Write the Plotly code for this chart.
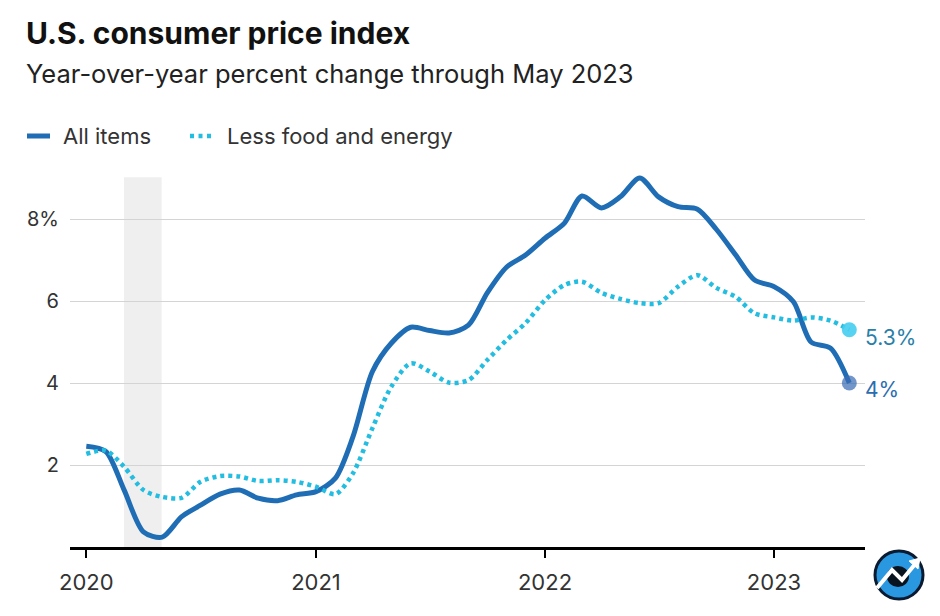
import plotly.graph_objects as go

months = [f"{y}-{m:02d}-01" for y in range(2020, 2024) for m in range(1, 13)][:41]

all_items = [2.46, 2.33, 1.4, 0.37, 0.24, 0.74, 1.02, 1.29, 1.39, 1.19, 1.13, 1.27,
             1.35, 1.68, 2.69, 4.28, 4.97, 5.36, 5.28, 5.22, 5.41, 6.2, 6.83, 7.12,
             7.53, 7.9, 8.56, 8.27, 8.54, 9.0, 8.54, 8.3, 8.24, 7.75, 7.12, 6.51,
             6.35, 5.98, 5.0, 4.85, 4.0]
core = [2.27, 2.35, 1.96, 1.39, 1.22, 1.2, 1.59, 1.73, 1.72, 1.61, 1.63, 1.59,
        1.47, 1.29, 1.8, 2.9, 3.91, 4.48, 4.28, 4.01, 4.07, 4.56, 5.05, 5.46,
        6.02, 6.39, 6.47, 6.2, 6.05, 5.95, 5.95, 6.35, 6.63, 6.32, 6.1, 5.7,
        5.6, 5.52, 5.6, 5.52, 5.3]

year_ticks = ["2020-01-01", "2021-01-01", "2022-01-01", "2023-01-01"]
year_labels = ["2020", "2021", "2022", "2023"]
y_ticks = [2, 4, 6, 8]
y_labels = ["2", "4", "6", "8%"]
recession = ("2020-03-01", "2020-04-30")

BLUE = "#1f6db4"
CYAN = "#22bde0"
FONT = "Inter"

OFF = 8  # page body margin
# plot area in (reference) pixels
L, R, T, B = 70, 865, 160, 547
W, H = 940 - OFF, 616 - OFF


def px(x):
    return (x - L) / (R - L)


def py(y):
    return (B - y) / (B - T)


fig = go.Figure()
fig.add_trace(go.Scatter(x=months, y=all_items, mode="lines", name="All items",
                         line=dict(color=BLUE, width=5, shape="spline", smoothing=0.8),
                         hoverinfo="x+y"))
fig.add_trace(go.Scatter(x=months, y=core, mode="lines", name="Less food and energy",
                         line=dict(color=CYAN, width=4.5, shape="spline", smoothing=0.8,
                                   dash="4px,4px"),
                         hoverinfo="x+y"))
fig.add_trace(go.Scatter(x=[months[-1]], y=[core[-1]], mode="markers",
                         marker=dict(size=15, color="rgba(70,205,240,0.9)"),
                         hoverinfo="skip"))
fig.add_trace(go.Scatter(x=[months[-1]], y=[all_items[-1]], mode="markers",
                         marker=dict(size=15, color="rgba(60,110,180,0.72)"),
                         hoverinfo="skip"))

fig.add_shape(type="rect", xref="x", yref="y", x0=recession[0], x1=recession[1],
              y0=0, y1=9.02, fillcolor="#efefef", line=dict(width=0), layer="below")

# end labels
fig.add_annotation(x=months[-1], y=core[-1], text=f"{core[-1]}%", showarrow=False,
                   xanchor="left", yanchor="middle", xshift=14, yshift=-8,
                   font=dict(family=FONT, size=21, color="#2a7fa8"))
fig.add_annotation(x=months[-1], y=all_items[-1], text=f"{all_items[-1]:g}%", showarrow=False,
                   xanchor="left", yanchor="middle", xshift=14, yshift=-6,
                   font=dict(family=FONT, size=21, color="#2a6db0"))

# title & subtitle
fig.add_annotation(xref="paper", yref="paper", x=px(24), y=py(33),
                   text="<b>U.S. consumer price index</b>", showarrow=False,
                   xanchor="left", yanchor="middle",
                   font=dict(family=FONT, size=30, color="#111111"))
fig.add_annotation(xref="paper", yref="paper", x=px(24), y=py(74),
                   text="Year-over-year percent change through May 2023", showarrow=False,
                   xanchor="left", yanchor="middle",
                   font=dict(family=FONT, size=25.5, color="#222222"))

# legend
fig.add_shape(type="line", xref="paper", yref="paper", x0=px(27), x1=px(50),
              y0=py(136), y1=py(136), line=dict(color=BLUE, width=5))
fig.add_annotation(xref="paper", yref="paper", x=px(61), y=py(136), text="All items",
                   showarrow=False, xanchor="left", yanchor="middle",
                   font=dict(family=FONT, size=22, color="#333333"))
fig.add_shape(type="line", xref="paper", yref="paper", x0=px(190), x1=px(212),
              y0=py(136), y1=py(136), line=dict(color=CYAN, width=4.5, dash="4px,4.5px"))
fig.add_annotation(xref="paper", yref="paper", x=px(225), y=py(136),
                   text="Less food and energy", showarrow=False, xanchor="left",
                   yanchor="middle", font=dict(family=FONT, size=22, color="#333333"))

# logo (decorative)
cx, cy, r = 899, 575, 24
fig.add_shape(type="circle", xref="paper", yref="paper", x0=px(cx - r), x1=px(cx + r),
              y0=py(cy + r), y1=py(cy - r), fillcolor="#2a98e0",
              line=dict(color="#0a1a30", width=3))
fig.add_shape(type="circle", xref="paper", yref="paper", x0=px(cx - 12), x1=px(cx + 10),
              y0=py(cy + 12), y1=py(cy - 9), fillcolor="#081420", line=dict(width=0))
pts = [(877, 588), (892, 570), (902, 580), (916, 563)]
path = "M " + " L ".join(f"{px(a)},{py(b)}" for a, b in pts)
fig.add_shape(type="path", xref="paper", yref="paper", path=path,
              line=dict(color="white", width=4))
head = [(909, 561), (920, 558), (918, 569)]
fig.add_shape(type="path", xref="paper", yref="paper",
              path="M " + " L ".join(f"{px(a)},{py(b)}" for a, b in head) + " Z",
              fillcolor="white", line=dict(color="white", width=1))

fig.update_layout(
    width=W, height=H,
    margin=dict(l=L - OFF, r=940 - R, t=T - OFF, b=616 - B),
    paper_bgcolor="white", plot_bgcolor="white",
    showlegend=False,
    font=dict(family=FONT, color="#333333"),
    xaxis=dict(type="date", range=["2019-12-06", "2023-05-26"],
               tickvals=year_ticks, ticktext=year_labels,
               showgrid=False, zeroline=False,
               showline=True, linecolor="black", linewidth=3,
               ticks="outside", ticklen=8, tickwidth=2, tickcolor="black",
               ticklabelstandoff=6,
               tickfont=dict(family=FONT, size=22, color="#333333")),
    yaxis=dict(range=[0, (B - T) / 41], tickvals=y_ticks, ticktext=y_labels,
               showgrid=True, gridcolor="#d4d4d4", gridwidth=1,
               zeroline=False, showline=False, ticks="",
               ticklabelstandoff=10,
               tickfont=dict(family=FONT, size=20, color="#333333")),
)

fig.write_html("out.html")
